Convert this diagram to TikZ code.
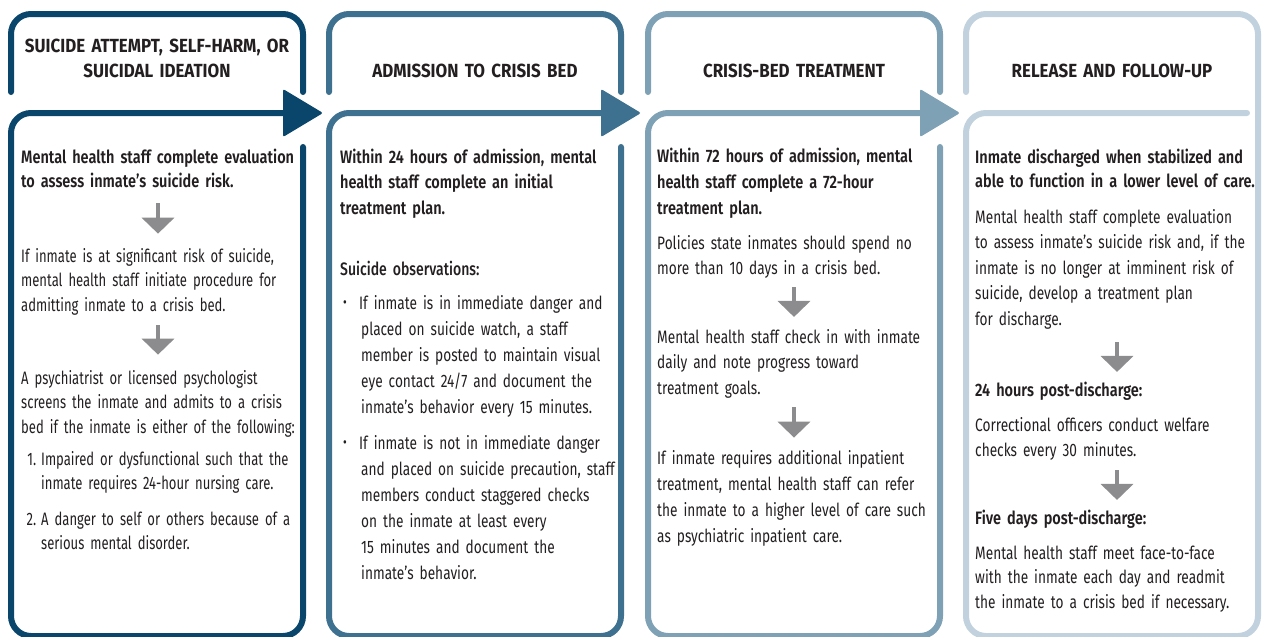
\documentclass[tikz,border=0pt]{standalone}
\usepackage{fontspec}
\setmainfont{Fira Sans}[FakeStretch=0.76]
\newfontfamily\narrowfont{Fira Sans}[FakeStretch=0.725]
\newfontfamily\semifont{Fira Sans SemiBold}[FakeStretch=0.805]
\newfontfamily\midfont{Fira Sans Medium}[FakeStretch=0.78]
\newfontfamily\headfont{Fira Sans}[FakeStretch=0.89]
\usetikzlibrary{arrows.meta,positioning}
\definecolor{stepA}{HTML}{0A466C}
\definecolor{stepB}{HTML}{3E7090}
\definecolor{stepC}{HTML}{7FA1B5}
\definecolor{stepD}{HTML}{C1D2DE}
\definecolor{ink}{HTML}{231F20}
\definecolor{flowgray}{HTML}{8C8C8E}

\begin{document}
\begin{tikzpicture}[x=1pt,y=-1pt,
        frame/.style={line width=6pt, rounded corners=20pt, line cap=round},
        head/.style={text width=290pt, align=center, inner sep=0pt, anchor=base, text=ink,
          font=\headfont\bfseries\fontsize{19}{25}\selectfont},
        body/.style={text width=300pt, align=left, inner sep=0pt, anchor=base west, text=ink,
          font=\fontsize{18}{25.5}\selectfont,
          execute at begin node=\strut, execute at end node=\strut},
        lead/.style={body, font=\semifont\fontsize{18}{25.5}\selectfont},
        tight/.style={font=\narrowfont\fontsize{18}{24.5}\selectfont},
        down/.style={draw=flowgray, line width=4.5pt, -{Triangle[width=32pt,length=16pt]}}]
    \useasboundingbox (0,0) rectangle (1266,637);

    % frames
    \draw[frame, stepA] (11,92) -- (11,14) -- (303,14) -- (303,92);
    \draw[frame, stepA] (303,147) -- (303,636) -- (11,636) -- (11,113) -- (290,113);
    \fill[stepA, rounded corners=2pt] (283,89) -- (323,113) -- (283,137) -- cycle;
    \draw[frame, stepB] (329,92) -- (329,14) -- (621,14) -- (621,92);
    \draw[frame, stepB] (621,147) -- (621,636) -- (329,636) -- (329,113) -- (608,113);
    \fill[stepB, rounded corners=2pt] (601,89) -- (641,113) -- (601,137) -- cycle;
    \draw[frame, stepC] (648,92) -- (648,14) -- (940,14) -- (940,92);
    \draw[frame, stepC] (940,147) -- (940,636) -- (648,636) -- (648,113) -- (927,113);
    \fill[stepC, rounded corners=2pt] (920,89) -- (960,113) -- (920,137) -- cycle;
    \draw[frame, stepD] (966,92) -- (966,14) -- (1258,14) -- (1258,636) -- (966,636) -- (966,113) -- (1247,113);

    % headings
    \node[head] (h1) at (157,52) {SUICIDE ATTEMPT, SELF-HARM, OR\\SUICIDAL IDEATION};
    \node[head] (h2) at (475,77) {ADMISSION TO CRISIS BED};
    \node[head] (h3) at (794,77) {CRISIS-BED TREATMENT};
    \node[head] (h4) at (1112,77) {RELEASE AND FOLLOW-UP};

    % suicide attempt
    \node[lead, font=\semifont\fontsize{18}{24.5}\selectfont] (a1) at (21,163)
      {Mental health staff complete evaluation\\to assess inmate’s suicide risk.};
    \node[body, tight] (a2) at (21,262)
      {If inmate is at significant risk of suicide,\\mental health staff initiate procedure for\\admitting inmate to a crisis bed.};
    \node[body, tight] (a3) at (21,384)
      {A psychiatrist or licensed psychologist\\screens the inmate and admits to a crisis\\bed if the inmate is either of the following:};
    \node[body, tight] (a4) at (21,465)
      {\makebox[20pt][r]{1.\hspace{5pt}}Impaired or dysfunctional such that the\\\hspace*{20pt}inmate requires 24-hour nursing care.\\[11pt]
       \makebox[20pt][r]{2.\hspace{5pt}}A danger to self or others because of a\\\hspace*{20pt}serious mental disorder.};
    \draw[down, shorten <=8pt, shorten >=11pt] ([xshift=137pt]a1.south west) -- ([xshift=137pt]a2.north west);
    \draw[down, shorten <=6.5pt, shorten >=12pt] ([xshift=137pt]a2.south west) -- ([xshift=137pt]a3.north west);

    % admission
    \node[lead] (b1) at (340,163)
      {Within 24 hours of admission, mental\\health staff complete an initial\\treatment plan.};
    \node[body, font=\midfont\fontsize{18}{25.5}\selectfont] (b2) at (340,275) {Suicide observations:};
    \node[body, font=\fontsize{18}{26}\selectfont] (b3) at (340,309)
      {\makebox[19pt][l]{\hspace{3pt}\raisebox{1.5pt}{\fontsize{15}{15}\selectfont\textbullet}}If inmate is in immediate danger and\\
       \hspace*{21pt}placed on suicide watch, a staff\\\hspace*{21pt}member is posted to maintain visual\\
       \hspace*{21pt}eye contact 24/7 and document the\\\hspace*{21pt}inmate’s behavior every 15 minutes.};
    \node[body, font=\fontsize{18}{26}\selectfont] (b4) at (340,449)
      {\makebox[19pt][l]{\hspace{3pt}\raisebox{1.5pt}{\fontsize{15}{15}\selectfont\textbullet}}If inmate is not in immediate danger\\
       \hspace*{21pt}and placed on suicide precaution, staff\\\hspace*{21pt}members conduct staggered checks\\
       \hspace*{21pt}on the inmate at least every\\\hspace*{21pt}15 minutes and document the\\\hspace*{21pt}inmate’s behavior.};

    % crisis-bed treatment
    \node[lead, font=\semifont\fontsize{18}{26}\selectfont] (c1) at (657,162)
      {Within 72 hours of admission, mental\\health staff complete a 72-hour\\treatment plan.};
    \node[body] (c2) at (657,249)
      {Policies state inmates should spend no\\more than 10 days in a crisis bed.};
    \node[body] (c3) at (657,343)
      {Mental health staff check in with inmate\\daily and note progress toward\\treatment goals.};
    \node[body, font=\fontsize{18}{26}\selectfont] (c4) at (657,464)
      {If inmate requires additional inpatient\\treatment, mental health staff can refer\\the inmate to a higher level of care such\\as psychiatric inpatient care.};
    \draw[down, shorten <=5pt, shorten >=8pt] ([xshift=137pt]c2.south west) -- ([xshift=137pt]c3.north west);
    \draw[down, shorten <=5.5pt, shorten >=8pt] ([xshift=137pt]c3.south west) -- ([xshift=137pt]c4.north west);

    % release
    \node[lead, font=\semifont\fontsize{18}{24.5}\selectfont] (d1) at (975,163)
      {Inmate discharged when stabilized and\\able to function in a lower level of care.};
    \node[body] (d2) at (975,223)
      {Mental health staff complete evaluation\\to assess inmate’s suicide risk and, if the\\inmate is no longer at imminent risk of\\suicide, develop a treatment plan\\for discharge.};
    \node[lead] (d3) at (975,396) {24 hours post-discharge:};
    \node[body] (d4) at (975,431)
      {Correctional officers conduct welfare\\checks every 30 minutes.};
    \node[lead] (d5) at (975,524) {Five days post-discharge:};
    \node[body, font=\fontsize{18}{24.5}\selectfont] (d6) at (975,559)
      {Mental health staff meet face-to-face\\with the inmate each day and readmit\\the inmate to a crisis bed if necessary.};
    \draw[down, shorten <=9.5pt, shorten >=6pt] ([xshift=142pt]d2.south west) -- ([xshift=142pt]d3.north west);
    \draw[down, shorten <=6pt, shorten >=6pt] ([xshift=142pt]d4.south west) -- ([xshift=142pt]d5.north west);
\end{tikzpicture}
\end{document}
